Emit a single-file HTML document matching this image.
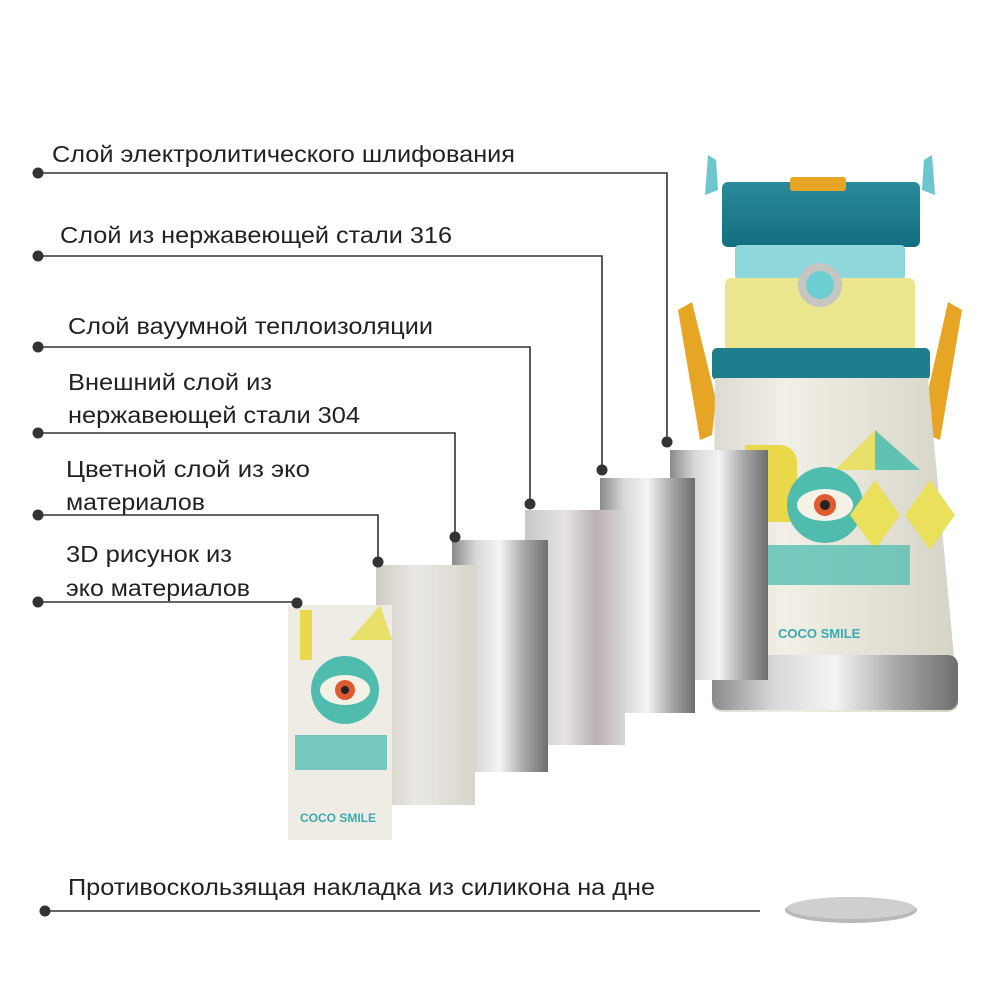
<!DOCTYPE html>
<html><head><meta charset="utf-8"><style>
html,body{margin:0;padding:0;background:#fff}
svg{display:block}
text{font-family:"Liberation Sans",sans-serif;font-size:23px;fill:#222}
</style></head><body>
<svg width="1000" height="1000" viewBox="0 0 1000 1000">
<defs>
<linearGradient id="silver" x1="0" x2="1" y1="0" y2="0">
<stop offset="0" stop-color="#8a8a8a"/><stop offset="0.25" stop-color="#d8d8d8"/><stop offset="0.5" stop-color="#f4f4f4"/><stop offset="0.75" stop-color="#a8a8a8"/><stop offset="1" stop-color="#6e6e6e"/>
</linearGradient>
<linearGradient id="pinkg" x1="0" x2="1"><stop offset="0" stop-color="#c9c6c8"/><stop offset="0.4" stop-color="#e6e3e5"/><stop offset="0.7" stop-color="#b9b1b5"/><stop offset="1" stop-color="#d9d6d8"/></linearGradient>
<linearGradient id="beige" x1="0" x2="1"><stop offset="0" stop-color="#cfccc4"/><stop offset="0.4" stop-color="#eae8e2"/><stop offset="1" stop-color="#d8d5cd"/></linearGradient>
<linearGradient id="bodyg" x1="0" x2="1"><stop offset="0" stop-color="#dcdad0"/><stop offset="0.3" stop-color="#f2f0e6"/><stop offset="1" stop-color="#d6d3c7"/></linearGradient>
<linearGradient id="lid" x1="0" x2="0" y1="0" y2="1"><stop offset="0" stop-color="#2a8a9c"/><stop offset="1" stop-color="#126e80"/></linearGradient>
</defs>

<!-- bottle -->
<polygon points="678,310 692,302 716,400 712,435 700,440" fill="#e7a526"/>
<polygon points="962,310 948,302 926,400 928,435 940,440" fill="#e7a526"/>
<polygon points="708,155 716,160 718,190 705,195" fill="#6cc7cc"/>
<polygon points="932,155 924,160 922,190 935,195" fill="#6cc7cc"/>
<rect x="722" y="182" width="198" height="65" rx="6" fill="url(#lid)"/>
<rect x="790" y="177" width="56" height="14" rx="3" fill="#e7a526"/>
<rect x="735" y="245" width="170" height="35" rx="4" fill="#8ed7da"/>
<rect x="725" y="278" width="190" height="75" rx="6" fill="#ece590"/>
<circle cx="820" cy="285" r="22" fill="#c5c5c2"/><circle cx="820" cy="285" r="14" fill="#6ccdd3"/>
<rect x="712" y="348" width="218" height="32" rx="5" fill="#1f7e8e"/>
<path d="M715,378 L928,378 L958,700 Q960,712 945,712 L725,712 Q710,712 712,700 Z" fill="url(#bodyg)"/>
<rect x="712" y="655" width="246" height="55" rx="10" fill="url(#silver)"/>
<path d="M745,445 h35 a17,17 0 0 1 17,17 v60 h-52 Z" fill="#e9d84a"/>
<polygon points="835,470 875,430 920,470" fill="#e9e06a"/>
<polygon points="875,430 920,470 875,470" fill="#5fc2b3"/>
<circle cx="825" cy="505" r="38" fill="#4fbcae"/>
<ellipse cx="825" cy="505" rx="28" ry="16" fill="#f4f1e6"/>
<circle cx="825" cy="505" r="11" fill="#e05a30"/><circle cx="825" cy="505" r="5" fill="#222"/>
<polygon points="875,480 900,515 875,550 850,515" fill="#ebe05c"/>
<polygon points="930,480 955,515 930,550 905,515" fill="#ebe05c"/>
<rect x="760" y="545" width="150" height="40" fill="#58bfb1" opacity="0.8"/>
<text x="778" y="638" style="font-size:13px;fill:#3aaab0;font-weight:bold">COCO SMILE</text>

<!-- panels -->
<rect x="670" y="450" width="98" height="230" fill="url(#silver)"/>
<rect x="600" y="478" width="95" height="235" fill="url(#silver)"/>
<rect x="525" y="510" width="100" height="235" fill="url(#pinkg)"/>
<rect x="452" y="540" width="96" height="232" fill="url(#silver)"/>
<rect x="376" y="565" width="99" height="240" fill="url(#beige)"/>
<rect x="288" y="605" width="104" height="235" fill="#eeece4"/>
<path d="M300,610 h12 v50 h-12 Z" fill="#e9d84a"/>
<polygon points="350,640 380,605 392,640" fill="#e9e06a"/>
<circle cx="345" cy="690" r="34" fill="#4fbcae"/>
<ellipse cx="345" cy="690" rx="25" ry="15" fill="#f4f1e6"/>
<circle cx="345" cy="690" r="10" fill="#e05a30"/><circle cx="345" cy="690" r="4" fill="#222"/>
<rect x="295" y="735" width="92" height="35" fill="#58bfb1" opacity="0.8"/>
<text x="300" y="822" style="font-size:12px;fill:#3aaab0;font-weight:bold">COCO SMILE</text>

<!-- disk -->
<ellipse cx="851" cy="910" rx="66" ry="13" fill="#b8b8b8"/>
<ellipse cx="851" cy="908" rx="64" ry="11" fill="#cfcfcf"/>

<!-- leader lines -->
<g stroke="#333" stroke-width="1.6" fill="none">
<polyline points="38,173 667,173 667,440"/>
<polyline points="38,256 602,256 602,468"/>
<polyline points="38,347 530,347 530,502"/>
<polyline points="38,433 455,433 455,535"/>
<polyline points="38,515 378,515 378,560"/>
<polyline points="38,602 297,602"/>
<polyline points="45,911 760,911"/>
</g>
<g fill="#333">
<circle cx="38" cy="173" r="5.5"/><circle cx="38" cy="256" r="5.5"/><circle cx="38" cy="347" r="5.5"/>
<circle cx="38" cy="433" r="5.5"/><circle cx="38" cy="515" r="5.5"/><circle cx="38" cy="602" r="5.5"/><circle cx="45" cy="911" r="5.5"/>
<circle cx="667" cy="442" r="5.5"/><circle cx="602" cy="470" r="5.5"/><circle cx="530" cy="504" r="5.5"/>
<circle cx="455" cy="537" r="5.5"/><circle cx="378" cy="562" r="5.5"/><circle cx="297" cy="603" r="5.5"/>
</g>

<text x="52" y="162" textLength="463" lengthAdjust="spacingAndGlyphs">Слой электролитического шлифования</text>
<text x="60" y="243" textLength="392" lengthAdjust="spacingAndGlyphs">Слой из нержавеющей стали 316</text>
<text x="68" y="334" textLength="365" lengthAdjust="spacingAndGlyphs">Слой вауумной теплоизоляции</text>
<text x="68" y="390" textLength="204" lengthAdjust="spacingAndGlyphs">Внешний слой из</text>
<text x="68" y="423" textLength="292" lengthAdjust="spacingAndGlyphs">нержавеющей стали 304</text>
<text x="66" y="477" textLength="244" lengthAdjust="spacingAndGlyphs">Цветной слой из эко</text>
<text x="66" y="510" textLength="139" lengthAdjust="spacingAndGlyphs">материалов</text>
<text x="66" y="562" textLength="166" lengthAdjust="spacingAndGlyphs">3D рисунок из</text>
<text x="66" y="596" textLength="184" lengthAdjust="spacingAndGlyphs">эко материалов</text>
<text x="68" y="895" textLength="587" lengthAdjust="spacingAndGlyphs">Противоскользящая накладка из силикона на дне</text>
</svg>
</body></html>
